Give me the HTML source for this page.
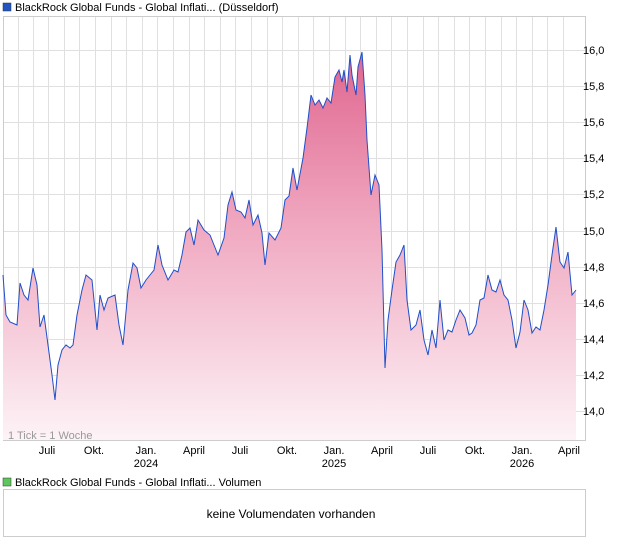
<!DOCTYPE html>
<html><head><meta charset="utf-8"><style>
body{margin:0;background:#fff;font-family:"Liberation Sans",sans-serif;}
svg text{font-family:"Liberation Sans",sans-serif;}
</style></head><body>
<svg width="620" height="546" xmlns="http://www.w3.org/2000/svg">
<defs><linearGradient id="g" x1="0" y1="0" x2="0" y2="1">
<stop offset="0" stop-color="#e0668f"/><stop offset="0.45" stop-color="#f0a8c0"/><stop offset="1" stop-color="#fdf3f6"/></linearGradient></defs>
<rect x="3" y="3" width="8" height="8" fill="#1f56c4" stroke="#333" stroke-width="0.5"/>
<text x="15" y="11" font-size="11" fill="#000">BlackRock Global Funds - Global Inflati... (Düsseldorf)</text>
<rect x="3.5" y="16.5" width="582" height="424" fill="#fff" stroke="#ccc"/>
<g stroke="#e0e0e0" stroke-width="1">
<path d="M18.5 17V440M33.5 17V440M48.5 17V440M64.5 17V440M79.5 17V440M95.5 17V440M111.5 17V440M126.5 17V440M142.5 17V440M157.5 17V440M173.5 17V440M189.5 17V440M204.5 17V440M220.5 17V440M235.5 17V440M251.5 17V440M267.5 17V440M282.5 17V440M298.5 17V440M313.5 17V440M329.5 17V440M345.5 17V440M360.5 17V440M376.5 17V440M391.5 17V440M407.5 17V440M423.5 17V440M438.5 17V440M454.5 17V440M469.5 17V440M485.5 17V440M501.5 17V440M516.5 17V440M532.5 17V440M547.5 17V440M563.5 17V440"/>
<path d="M4 50.5H585M4 86.5H585M4 122.5H585M4 158.5H585M4 194.5H585M4 231.5H585M4 267.5H585M4 303.5H585M4 339.5H585M4 375.5H585M4 411.5H585"/>
</g>
<path fill="url(#g)" d="M3,275 6,315 10,322 17,325 20,283 24,295 28,300 33,268 37,285 40,327 44,315 48,345 52,375 55,400 58,365 62,350 66,345 70,348 73,345 77,315 82,290 86,275 92,280 97,330 100,295 104,310 108,298 115,295 119,325 123,345 128,290 133,263 137,268 141,288 146,280 150,275 154,270 158,245 162,265 168,280 174,270 178,272 182,255 186,232 190,228 194,245 198,220 204,230 210,235 214,245 218,255 224,238 228,205 232,192 236,210 241,212 245,218 249,200 253,225 258,215 262,233 265,265 269,233 275,240 281,228 285,200 289,196 293,168 297,190 303,158 307,128 311,95 315,105 319,100 323,108 327,98 331,103 335,77 339,70 342,82 344,70 347,92 350,55 352,75 356,95 358,67 362,52 365,95 367,140 371,195 375,175 379,185 382,250 385,368 388,320 392,290 396,262 400,255 404,245 407,300 411,330 416,325 420,310 424,340 428,355 432,330 436,348 440,300 444,340 448,330 452,332 456,320 460,310 465,318 469,335 472,333 476,325 480,300 484,298 488,275 492,290 496,292 500,280 504,295 508,300 512,320 516,348 520,332 524,300 528,310 532,333 536,327 540,330 544,310 548,285 552,255 556,227 560,262 564,268 568,252 572,295 576,290 576,440 3,440Z"/>
<polyline fill="none" stroke="#1f4fc8" stroke-width="1" points="3,275 6,315 10,322 17,325 20,283 24,295 28,300 33,268 37,285 40,327 44,315 48,345 52,375 55,400 58,365 62,350 66,345 70,348 73,345 77,315 82,290 86,275 92,280 97,330 100,295 104,310 108,298 115,295 119,325 123,345 128,290 133,263 137,268 141,288 146,280 150,275 154,270 158,245 162,265 168,280 174,270 178,272 182,255 186,232 190,228 194,245 198,220 204,230 210,235 214,245 218,255 224,238 228,205 232,192 236,210 241,212 245,218 249,200 253,225 258,215 262,233 265,265 269,233 275,240 281,228 285,200 289,196 293,168 297,190 303,158 307,128 311,95 315,105 319,100 323,108 327,98 331,103 335,77 339,70 342,82 344,70 347,92 350,55 352,75 356,95 358,67 362,52 365,95 367,140 371,195 375,175 379,185 382,250 385,368 388,320 392,290 396,262 400,255 404,245 407,300 411,330 416,325 420,310 424,340 428,355 432,330 436,348 440,300 444,340 448,330 452,332 456,320 460,310 465,318 469,335 472,333 476,325 480,300 484,298 488,275 492,290 496,292 500,280 504,295 508,300 512,320 516,348 520,332 524,300 528,310 532,333 536,327 540,330 544,310 548,285 552,255 556,227 560,262 564,268 568,252 572,295 576,290"/>
<text x="8" y="439" font-size="11" fill="#999">1 Tick = 1 Woche</text>
<g font-size="11" fill="#000">
<text x="583" y="54">16,0</text><text x="583" y="90">15,8</text><text x="583" y="126">15,6</text><text x="583" y="162">15,4</text><text x="583" y="198">15,2</text><text x="583" y="235">15,0</text><text x="583" y="271">14,8</text><text x="583" y="307">14,6</text><text x="583" y="343">14,4</text><text x="583" y="379">14,2</text><text x="583" y="415">14,0</text>
</g>
<g font-size="11" fill="#000" text-anchor="middle">
<text x="47" y="454">Juli</text><text x="94" y="454">Okt.</text><text x="146" y="454">Jan.</text><text x="194" y="454">April</text><text x="240" y="454">Juli</text><text x="287" y="454">Okt.</text><text x="334" y="454">Jan.</text><text x="382" y="454">April</text><text x="428" y="454">Juli</text><text x="475" y="454">Okt.</text><text x="522" y="454">Jan.</text><text x="569" y="454">April</text>
<text x="146" y="467">2024</text><text x="334" y="467">2025</text><text x="522" y="467">2026</text>
</g>
<rect x="3" y="478" width="8" height="8" fill="#5cc85c" stroke="#333" stroke-width="0.5"/>
<text x="15" y="486" font-size="11" fill="#000">BlackRock Global Funds - Global Inflati... Volumen</text>
<rect x="3.5" y="489.5" width="582" height="47" fill="#fff" stroke="#ccc"/>
<text x="291" y="518" font-size="12" fill="#000" text-anchor="middle">keine Volumendaten vorhanden</text>
</svg>
</body></html>
